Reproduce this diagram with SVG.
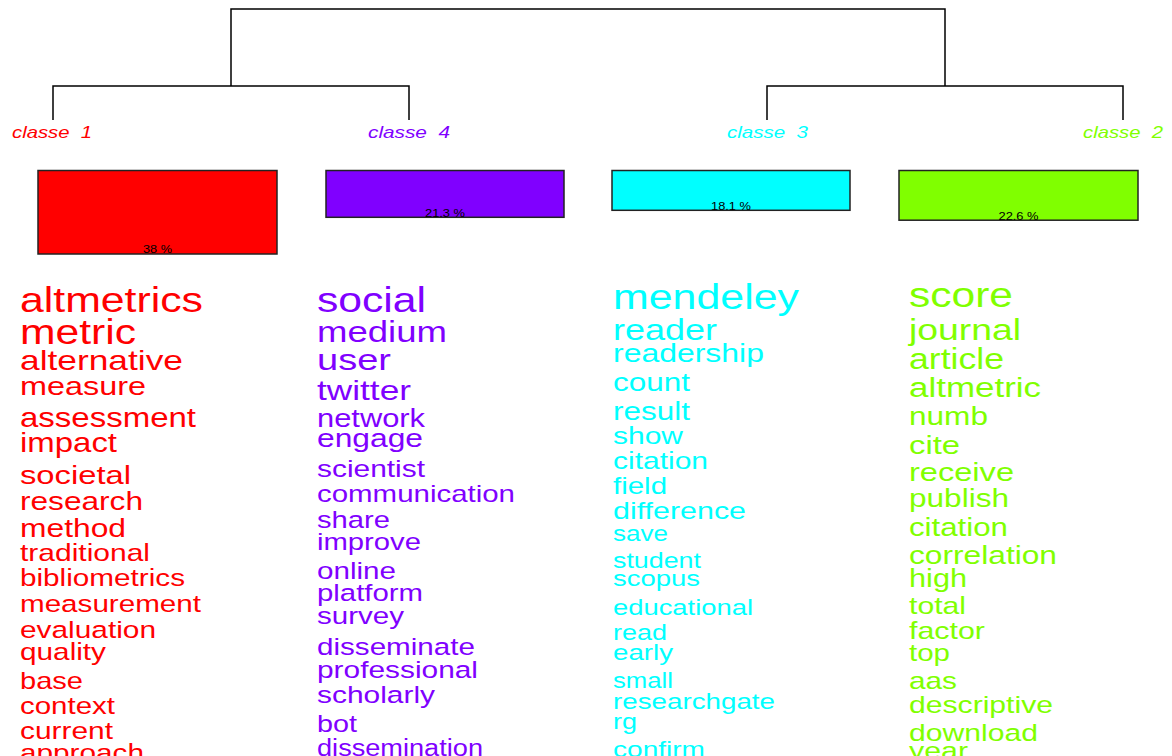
<svg xmlns="http://www.w3.org/2000/svg" width="1172" height="756" viewBox="0 0 1172 756">
<style>
text{font-family:"Liberation Sans",Arial,sans-serif;}
.lbl{font-style:italic;font-size:17px;white-space:pre;}
.pct{font-size:11px;fill:#000;text-anchor:middle;}
.box{stroke:#222;stroke-width:1.5;}
.c1{fill:#FF0000;}
.c2{fill:#80FF00;}
.c3{fill:#00FFFF;}
.c4{fill:#8000FF;}
.edge{fill:none;stroke:#000;stroke-width:1.5;}
</style>
<rect width="1172" height="756" fill="#fff"/>
<g id="connectors">
<path class="edge" d="M231,86 V9 H945 V86"/>
<path class="edge" d="M53,120 V86 H409 V120"/>
<path class="edge" d="M767,120 V86 H1123 V120"/>
</g>
<g id="classe1">
<text class="lbl c1" x="12" y="138" xml:space="preserve" textLength="80" lengthAdjust="spacingAndGlyphs">classe  1</text>
<rect class="box c1" x="38" y="170.5" width="239" height="83.5"/>
<text class="pct" x="157.5" y="253" textLength="29" lengthAdjust="spacingAndGlyphs">38 %</text>
<g class="c1">
<text x="20" y="311.5" font-size="34.6" textLength="183" lengthAdjust="spacingAndGlyphs">altmetrics</text>
<text x="20" y="344" font-size="34.6" textLength="116" lengthAdjust="spacingAndGlyphs">metric</text>
<text x="20" y="369.5" font-size="27.8" textLength="163" lengthAdjust="spacingAndGlyphs">alternative</text>
<text x="20" y="395" font-size="26.4" textLength="126" lengthAdjust="spacingAndGlyphs">measure</text>
<text x="20" y="426.5" font-size="26.9" textLength="176" lengthAdjust="spacingAndGlyphs">assessment</text>
<text x="20" y="451.5" font-size="26.9" textLength="97" lengthAdjust="spacingAndGlyphs">impact</text>
<text x="20" y="483.5" font-size="26.4" textLength="111" lengthAdjust="spacingAndGlyphs">societal</text>
<text x="20" y="510" font-size="25.7" textLength="123" lengthAdjust="spacingAndGlyphs">research</text>
<text x="20" y="536.5" font-size="25.7" textLength="106" lengthAdjust="spacingAndGlyphs">method</text>
<text x="20" y="561" font-size="24.4" textLength="130" lengthAdjust="spacingAndGlyphs">traditional</text>
<text x="20" y="586" font-size="24.2" textLength="165" lengthAdjust="spacingAndGlyphs">bibliometrics</text>
<text x="20" y="611.5" font-size="24.1" textLength="181" lengthAdjust="spacingAndGlyphs">measurement</text>
<text x="20" y="637.5" font-size="24.3" textLength="136" lengthAdjust="spacingAndGlyphs">evaluation</text>
<text x="20" y="660" font-size="24.2" textLength="86" lengthAdjust="spacingAndGlyphs">quality</text>
<text x="20" y="688.5" font-size="23.6" textLength="63" lengthAdjust="spacingAndGlyphs">base</text>
<text x="20" y="713.5" font-size="24" textLength="95" lengthAdjust="spacingAndGlyphs">context</text>
<text x="20" y="738.5" font-size="24.3" textLength="93" lengthAdjust="spacingAndGlyphs">current</text>
<text x="20" y="761" font-size="24.2" textLength="124" lengthAdjust="spacingAndGlyphs">approach</text>
</g>
</g>
<g id="classe4">
<text class="lbl c4" x="368" y="138" xml:space="preserve" textLength="82" lengthAdjust="spacingAndGlyphs">classe  4</text>
<rect class="box c4" x="326" y="170.5" width="238" height="46.8"/>
<text class="pct" x="445" y="217" textLength="40" lengthAdjust="spacingAndGlyphs">21.3 %</text>
<g class="c4">
<text x="317" y="311.5" font-size="34.6" textLength="109" lengthAdjust="spacingAndGlyphs">social</text>
<text x="317" y="341.5" font-size="29.8" textLength="130" lengthAdjust="spacingAndGlyphs">medium</text>
<text x="317" y="369.5" font-size="29.8" textLength="74" lengthAdjust="spacingAndGlyphs">user</text>
<text x="317" y="399.5" font-size="28.3" textLength="94" lengthAdjust="spacingAndGlyphs">twitter</text>
<text x="317" y="426.5" font-size="25.4" textLength="108" lengthAdjust="spacingAndGlyphs">network</text>
<text x="317" y="446.5" font-size="25.4" textLength="106" lengthAdjust="spacingAndGlyphs">engage</text>
<text x="317" y="476.5" font-size="24.3" textLength="108" lengthAdjust="spacingAndGlyphs">scientist</text>
<text x="317" y="501.5" font-size="24" textLength="198" lengthAdjust="spacingAndGlyphs">communication</text>
<text x="317" y="527.5" font-size="23.7" textLength="73" lengthAdjust="spacingAndGlyphs">share</text>
<text x="317" y="549.5" font-size="23.8" textLength="104" lengthAdjust="spacingAndGlyphs">improve</text>
<text x="317" y="578.5" font-size="24.1" textLength="79" lengthAdjust="spacingAndGlyphs">online</text>
<text x="317" y="601" font-size="23.9" textLength="106" lengthAdjust="spacingAndGlyphs">platform</text>
<text x="317" y="623.5" font-size="24" textLength="87" lengthAdjust="spacingAndGlyphs">survey</text>
<text x="317" y="655" font-size="24.1" textLength="158" lengthAdjust="spacingAndGlyphs">disseminate</text>
<text x="317" y="677.5" font-size="24.3" textLength="161" lengthAdjust="spacingAndGlyphs">professional</text>
<text x="317" y="702.5" font-size="24.3" textLength="118" lengthAdjust="spacingAndGlyphs">scholarly</text>
<text x="317" y="731.5" font-size="23.4" textLength="40" lengthAdjust="spacingAndGlyphs">bot</text>
<text x="317" y="756" font-size="23" textLength="166" lengthAdjust="spacingAndGlyphs">dissemination</text>
</g>
</g>
<g id="classe3">
<text class="lbl c3" x="727" y="138" xml:space="preserve" textLength="81" lengthAdjust="spacingAndGlyphs">classe  3</text>
<rect class="box c3" x="612" y="170.5" width="238" height="39.8"/>
<text class="pct" x="731" y="210" textLength="40" lengthAdjust="spacingAndGlyphs">18.1 %</text>
<g class="c3">
<text x="613" y="308.5" font-size="34.6" textLength="186" lengthAdjust="spacingAndGlyphs">mendeley</text>
<text x="613" y="340" font-size="29.3" textLength="104" lengthAdjust="spacingAndGlyphs">reader</text>
<text x="613" y="361.5" font-size="25.9" textLength="151" lengthAdjust="spacingAndGlyphs">readership</text>
<text x="613" y="391" font-size="25.6" textLength="77" lengthAdjust="spacingAndGlyphs">count</text>
<text x="613" y="419.5" font-size="25.6" textLength="77" lengthAdjust="spacingAndGlyphs">result</text>
<text x="613" y="443.5" font-size="24.4" textLength="70" lengthAdjust="spacingAndGlyphs">show</text>
<text x="613" y="468.5" font-size="24.4" textLength="95" lengthAdjust="spacingAndGlyphs">citation</text>
<text x="613" y="493.5" font-size="24" textLength="54" lengthAdjust="spacingAndGlyphs">field</text>
<text x="613" y="519" font-size="24.5" textLength="133" lengthAdjust="spacingAndGlyphs">difference</text>
<text x="613" y="541" font-size="21.6" textLength="55" lengthAdjust="spacingAndGlyphs">save</text>
<text x="613" y="567.5" font-size="21.9" textLength="88" lengthAdjust="spacingAndGlyphs">student</text>
<text x="613" y="586" font-size="22.3" textLength="87" lengthAdjust="spacingAndGlyphs">scopus</text>
<text x="613" y="615" font-size="22.3" textLength="140" lengthAdjust="spacingAndGlyphs">educational</text>
<text x="613" y="639.5" font-size="22" textLength="54" lengthAdjust="spacingAndGlyphs">read</text>
<text x="613" y="660" font-size="22.4" textLength="60" lengthAdjust="spacingAndGlyphs">early</text>
<text x="613" y="687.5" font-size="21.6" textLength="60" lengthAdjust="spacingAndGlyphs">small</text>
<text x="613" y="708.5" font-size="22.5" textLength="162" lengthAdjust="spacingAndGlyphs">researchgate</text>
<text x="613" y="728.5" font-size="22.1" textLength="24" lengthAdjust="spacingAndGlyphs">rg</text>
<text x="613" y="757" font-size="22.8" textLength="92" lengthAdjust="spacingAndGlyphs">confirm</text>
</g>
</g>
<g id="classe2">
<text class="lbl c2" x="1083" y="138" xml:space="preserve" textLength="80" lengthAdjust="spacingAndGlyphs">classe  2</text>
<rect class="box c2" x="899" y="170.5" width="239" height="49.7"/>
<text class="pct" x="1018.5" y="220" textLength="40" lengthAdjust="spacingAndGlyphs">22.6 %</text>
<g class="c2">
<text x="909" y="307" font-size="34.6" textLength="104" lengthAdjust="spacingAndGlyphs">score</text>
<text x="909" y="339.5" font-size="30.2" textLength="112" lengthAdjust="spacingAndGlyphs">journal</text>
<text x="909" y="368.5" font-size="28.8" textLength="95" lengthAdjust="spacingAndGlyphs">article</text>
<text x="909" y="396.5" font-size="28.4" textLength="132" lengthAdjust="spacingAndGlyphs">altmetric</text>
<text x="909" y="425" font-size="25.7" textLength="79" lengthAdjust="spacingAndGlyphs">numb</text>
<text x="909" y="453.5" font-size="26.4" textLength="51" lengthAdjust="spacingAndGlyphs">cite</text>
<text x="909" y="481" font-size="26.4" textLength="105" lengthAdjust="spacingAndGlyphs">receive</text>
<text x="909" y="506.5" font-size="25.7" textLength="100" lengthAdjust="spacingAndGlyphs">publish</text>
<text x="909" y="536" font-size="25.4" textLength="99" lengthAdjust="spacingAndGlyphs">citation</text>
<text x="909" y="563.5" font-size="25.8" textLength="148" lengthAdjust="spacingAndGlyphs">correlation</text>
<text x="909" y="586.5" font-size="25" textLength="58" lengthAdjust="spacingAndGlyphs">high</text>
<text x="909" y="613.5" font-size="24.6" textLength="57" lengthAdjust="spacingAndGlyphs">total</text>
<text x="909" y="639" font-size="24.8" textLength="76" lengthAdjust="spacingAndGlyphs">factor</text>
<text x="909" y="661" font-size="24" textLength="41" lengthAdjust="spacingAndGlyphs">top</text>
<text x="909" y="688.5" font-size="24.2" textLength="48" lengthAdjust="spacingAndGlyphs">aas</text>
<text x="909" y="712.5" font-size="24.5" textLength="144" lengthAdjust="spacingAndGlyphs">descriptive</text>
<text x="909" y="741" font-size="24.5" textLength="129" lengthAdjust="spacingAndGlyphs">download</text>
<text x="909" y="759" font-size="24.7" textLength="59" lengthAdjust="spacingAndGlyphs">year</text>
</g>
</g>
</svg>
